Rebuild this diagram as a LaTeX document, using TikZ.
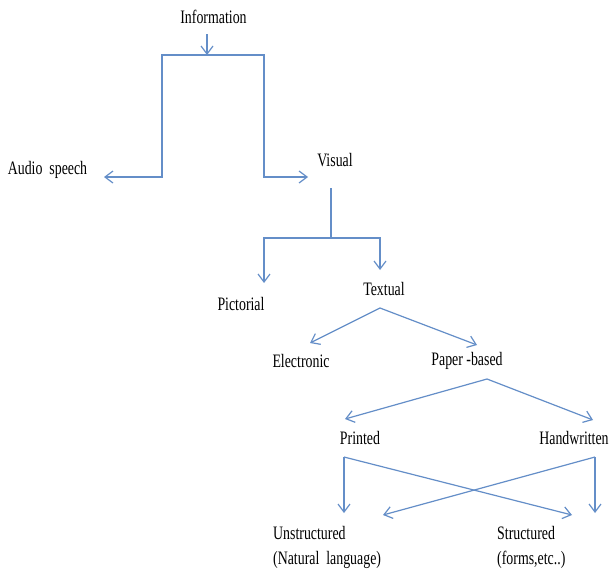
\documentclass[tikz,border=0pt]{standalone}
\usepackage{fontspec}
\setmainfont{Liberation Serif}
\usetikzlibrary{arrows.meta}
\definecolor{linkblue}{RGB}{100,142,200}
\newcommand\cond[1]{\scalebox{0.73}[1]{#1}}
\begin{document}
\begin{tikzpicture}[x=1pt,y=-1pt,
  lbl/.style={inner sep=0pt,font=\fontsize{19}{22}\selectfont},
  conn/.style={draw=linkblue,line width=1.2pt},
  arr/.style={conn,-{Straight Barb[length=8pt,width=12pt,line width=1.2pt]}}]
\useasboundingbox[fill=white] (0,0) rectangle (609,570);
% labels
\node[lbl] (info) at (213.5,17) {\cond{Information}};
\node[lbl] (audio) at (47.5,170) {\cond{Audio\ \ speech}};
\node[lbl] (visual) at (335,160) {\cond{Visual}};
\node[lbl] (pict) at (241,304) {\cond{Pictorial}};
\node[lbl] (textual) at (384,289) {\cond{Textual}};
\node[lbl] (elec) at (301,361) {\cond{Electronic}};
\node[lbl] (paper) at (467,361) {\cond{Paper -based}};
\node[lbl] (printed) at (360,438) {\cond{Printed}};
\node[lbl] (hand) at (574,438) {\cond{Handwritten}};
\node[lbl,anchor=west] (unstr) at (273,533) {\cond{Unstructured}};
\node[lbl,anchor=west] (unstr2) at (273,560) {\cond{(Natural\ \ language)}};
\node[lbl,anchor=west] (str) at (497,533) {\cond{Structured}};
\node[lbl,anchor=west] (str2) at (497,560) {\cond{(forms,etc..)}};
% coordinates
\coordinate (infoS) at (207,34);
\coordinate (top) at (207,55);
\coordinate (audL) at (162,177);
\coordinate (audT) at (104,177);
\coordinate (visR) at (264,177);
\coordinate (visT) at (308,177);
\coordinate (visS) at (331,188);
\coordinate (visJ) at (331,238);
\coordinate (pictT) at (264,283);
\coordinate (textT) at (380,270);
\coordinate (textS) at (380,308);
\coordinate (elecT) at (310,343);
\coordinate (paperT) at (477,345);
\coordinate (paperS) at (487,379);
\coordinate (printT) at (345,419);
\coordinate (handT) at (593,420);
\coordinate (printS) at (344,457);
\coordinate (handS) at (595,457);
\coordinate (unstrA) at (344,513);
\coordinate (unstrB) at (383,515);
\coordinate (strA) at (572,515);
\coordinate (strB) at (595,513);
% connectors
\draw[arr] (infoS) -- (top);
\draw[arr] (top) -| (audL) -- (audT);
\draw[arr] (top) -| (visR) -- (visT);
\draw[conn] (visS) -- (visJ);
\draw[arr] (visJ) -| (pictT);
\draw[arr] (visJ) -| (textT);
\draw[arr] (textS) -- (elecT);
\draw[arr] (textS) -- (paperT);
\draw[arr] (paperS) -- (printT);
\draw[arr] (paperS) -- (handT);
\draw[arr] (printS) -- (unstrA);
\draw[arr] (printS) -- (strA);
\draw[arr] (handS) -- (strB);
\draw[arr] (handS) -- (unstrB);
\end{tikzpicture}
\end{document}
